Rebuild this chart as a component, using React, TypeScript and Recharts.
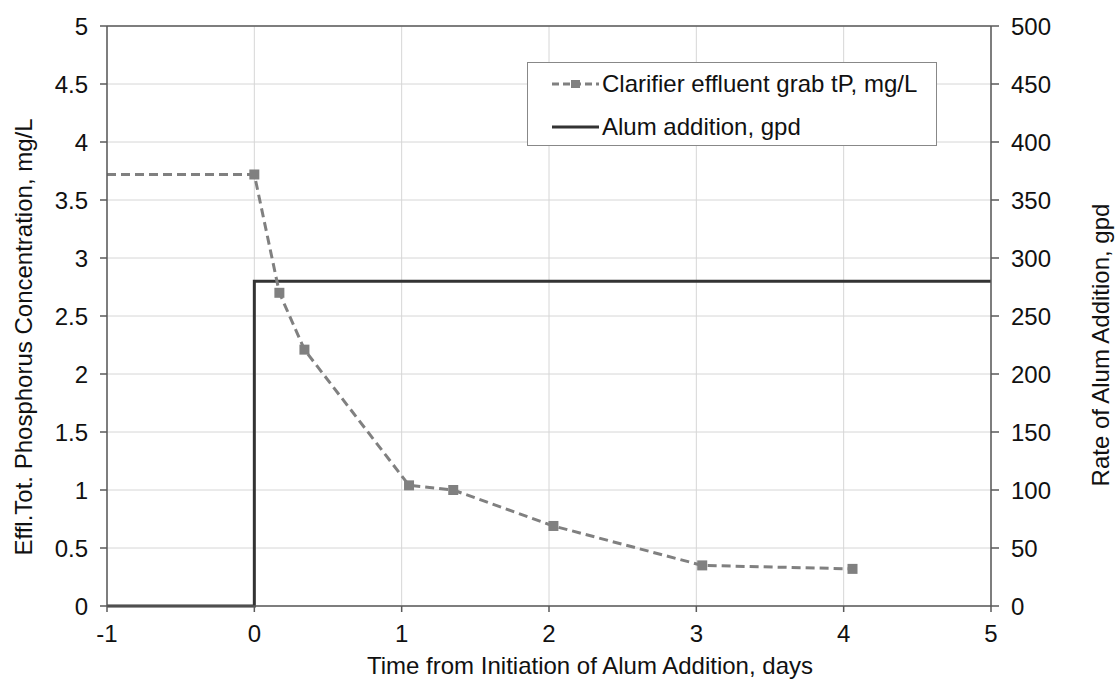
import { LineChart, Line, XAxis, YAxis, CartesianGrid, ReferenceLine } from 'recharts';

// Clarifier effluent grab tP (mg/L), by days from start of alum addition
const tpDays = [-1, 0, 0.17, 0.34, 1.05, 1.35, 2.03, 3.04, 4.06];
const tpConc = [3.72, 3.72, 2.7, 2.21, 1.04, 1.0, 0.69, 0.35, 0.32];

// Alum addition rate (gpd), drawn as a step
const alumDays = [-1, 0, 0, 5];
const alumRate = [0, 0, 280, 280];

const xTicks = [-1, 0, 1, 2, 3, 4, 5];
const leftTicks = [0, 0.5, 1, 1.5, 2, 2.5, 3, 3.5, 4, 4.5, 5];
const rightTicks = [0, 50, 100, 150, 200, 250, 300, 350, 400, 450, 500];

const tpData = tpDays.map((d, i) => ({ day: d, tp: tpConc[i] }));
const alumData = alumDays.map((d, i) => ({ day: d, alum: alumRate[i] }));

const FONT = '"Liberation Sans", Arial, sans-serif';
const TP_COLOR = '#808080';
const ALUM_COLOR = '#333333';
const AXIS_COLOR = '#5a5a5a';

const SquareDot = (props: any) => {
    const { cx, cy, index } = props;
    if (index === 0 || cx == null || cy == null) return <g key={`d-${index}`} />;
    return <rect key={`d-${index}`} x={cx - 5} y={cy - 5} width={10} height={10} fill={TP_COLOR} />;
};

// legend drawn as an overlay so it doesn't eat into the plot area
const ChartLegend = () => (
    <div
        style={{
            position: 'absolute',
            left: 527,
            top: 62,
            border: '1px solid #888',
            background: '#fff',
            width: 410,
            height: 84,
            boxSizing: 'border-box',
            fontFamily: FONT,
            fontSize: 24,
            color: '#111',
        }}
    >
        <div style={{ position: 'absolute', left: 24, top: 7, display: 'flex', alignItems: 'center', height: 28 }}>
            <svg width={47} height={12} style={{ marginRight: 3 }}>
                <line x1={0} y1={6} x2={47} y2={6} stroke={TP_COLOR} strokeWidth={3} strokeDasharray="7 4" />
                <rect x={19} y={2} width={9} height={8} fill={TP_COLOR} />
            </svg>
            <span>Clarifier effluent grab tP, mg/L</span>
        </div>
        <div style={{ position: 'absolute', left: 24, top: 50, display: 'flex', alignItems: 'center', height: 28 }}>
            <svg width={47} height={12} style={{ marginRight: 3 }}>
                <line x1={0} y1={6} x2={47} y2={6} stroke={ALUM_COLOR} strokeWidth={3} />
            </svg>
            <span>Alum addition, gpd</span>
        </div>
    </div>
);

export default function App() {
    const tickStyle = { fontSize: 24, fill: '#111', fontFamily: FONT };
    const labelStyle = { fontSize: 24, fill: '#111', fontFamily: FONT };

    return (
        <div style={{ position: 'absolute', left: 0, top: 0, width: 1115, height: 679, background: '#fff' }}>
            <LineChart width={1115} height={679} margin={{ top: 26, right: 0, bottom: 0, left: 0 }}>
                <CartesianGrid yAxisId="left" stroke="#d6d6d6" strokeWidth={1} />
                <XAxis
                    dataKey="day"
                    type="number"
                    domain={[-1, 5]}
                    ticks={xTicks}
                    allowDuplicatedCategory={false}
                    height={73}
                    tick={tickStyle}
                    tickSize={6}
                    tickMargin={13}
                    stroke={AXIS_COLOR}
                    strokeWidth={1.5}
                    label={{ value: 'Time from Initiation of Alum Addition, days', position: 'center', dx: 41, dy: 23, style: labelStyle }}
                />
                <YAxis
                    yAxisId="left"
                    type="number"
                    domain={[0, 5]}
                    ticks={leftTicks}
                    width={107}
                    tick={tickStyle}
                    tickSize={7}
                    tickMargin={12}
                    stroke={AXIS_COLOR}
                    strokeWidth={1.5}
                    label={{ value: 'Effl.Tot. Phosphorus Concentration, mg/L', angle: -90, position: 'center', dx: -30, dy: 21, style: labelStyle }}
                />
                <YAxis
                    yAxisId="right"
                    orientation="right"
                    type="number"
                    domain={[0, 500]}
                    ticks={rightTicks}
                    width={124}
                    tick={tickStyle}
                    tickSize={8}
                    tickMargin={12}
                    stroke={AXIS_COLOR}
                    strokeWidth={1.5}
                    label={{ value: 'Rate of Alum Addition, gpd', angle: -90, position: 'center', dx: 47, dy: 29, style: labelStyle }}
                />
                <ReferenceLine yAxisId="left" y={5} stroke={AXIS_COLOR} strokeWidth={1.5} />
                <Line
                    yAxisId="right"
                    data={alumData}
                    dataKey="alum"
                    type="linear"
                    stroke={ALUM_COLOR}
                    strokeWidth={3}
                    dot={false}
                    activeDot={false}
                    isAnimationActive={false}
                />
                <Line
                    yAxisId="left"
                    data={tpData}
                    dataKey="tp"
                    type="linear"
                    stroke={TP_COLOR}
                    strokeWidth={3}
                    strokeDasharray="9 5"
                    dot={SquareDot}
                    activeDot={false}
                    isAnimationActive={false}
                />
            </LineChart>
            <ChartLegend />
        </div>
    );
}
